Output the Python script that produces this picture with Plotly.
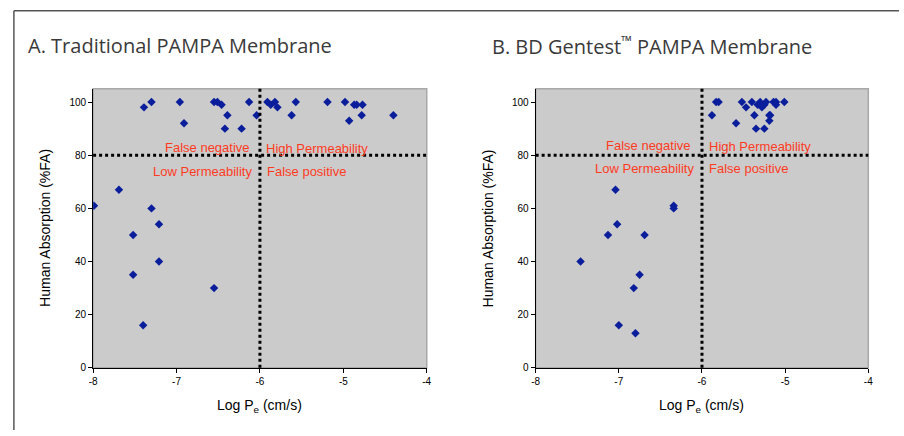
import plotly.graph_objects as go

# ---------------- data ----------------
a_logpe = [-7.39, -7.30, -6.96, -6.91, -6.55, -6.51, -6.46, -6.39, -6.42, -6.22,
           -6.13, -6.04, -5.91, -5.87, -5.82, -5.79, -5.57, -5.62, -5.19, -4.98,
           -4.93, -4.87, -4.84, -4.77, -4.78, -4.40,
           -7.69, -7.99, -7.30, -7.21, -7.52, -7.21, -7.52, -6.55, -7.40]
a_fa = [98, 100, 100, 92, 100, 100, 99, 95, 90, 90,
        100, 95, 100, 99, 100, 98, 100, 95, 100, 100,
        93, 99, 99, 99, 95, 95,
        67, 61, 60, 54, 50, 40, 35, 30, 16]

b_logpe = [-5.83, -5.80, -5.88, -5.59, -5.52, -5.47, -5.40, -5.37, -5.35, -5.33,
           -5.30, -5.28, -5.25, -5.25, -5.23, -5.19, -5.19, -5.18, -5.14, -5.11,
           -5.11, -5.01,
           -7.04, -6.34, -6.34, -7.02, -7.13, -6.69, -7.46, -6.75, -6.82, -7.00, -6.80]
b_fa = [100, 100, 95, 92, 100, 98, 100, 95, 90, 99,
        100, 98, 99, 90, 100, 95, 93, 95, 100, 99,
        100, 100,
        67, 61, 60, 54, 50, 50, 40, 35, 30, 16, 13]

x_ticks = [-8, -7, -6, -5, -4]
y_ticks = [0, 20, 40, 60, 80, 100]
THRESH_X = -6
THRESH_Y = 80

titles = ["A. Traditional PAMPA Membrane", "B. BD Gentest<sup>™</sup> PAMPA Membrane"]

# ---------------- layout geometry ----------------
W, H = 904, 436
def px(x): return x / W
def py(y): return 1 - y / H

panels = [
    dict(x0=90, x1=427, title_x=22, data=(a_logpe, a_fa), xa="x", ya="y",
         txt=dict(fn=(-8, 8), hp=(4, 7), lp=(-6, -16), fp=(5, -16))),
    dict(x0=537, x1=873, title_x=491, data=(b_logpe, b_fa), xa="x2", ya="y2",
         txt=dict(fn=(-9, 10), hp=(5, 9), lp=(-6, -13), fp=(5, -13))),
]
Y0, Y1 = 90, 373

MARK = "#0A1E9C"
RED = "#FF3B1F"
GRID_BG = "#CBCBCB"

fig = go.Figure()
shapes = []
annotations = []

for i, p in enumerate(panels):
    xs, ys = p["data"]
    fig.add_trace(go.Scatter(x=xs, y=ys, mode="markers", xaxis=p["xa"], yaxis=p["ya"],
                             marker=dict(symbol="diamond", size=6.5, color=MARK,
                                         line=dict(width=0)),
                             showlegend=False, hoverinfo="x+y"))
    sfx = "" if i == 0 else "2"
    xref, yref = "x" + sfx, "y" + sfx
    # plot border (light gray)
    shapes.append(dict(type="rect", xref=xref + " domain", yref=yref + " domain",
                       x0=0, x1=1, y0=0, y1=1, line=dict(color="#A8A8A8", width=1.5),
                       layer="below"))
    # threshold lines
    shapes.append(dict(type="line", xref=xref, yref=yref + " domain",
                       x0=THRESH_X, x1=THRESH_X, y0=0, y1=1,
                       line=dict(color="black", width=3, dash="dot")))
    shapes.append(dict(type="line", xref=xref + " domain", yref=yref,
                       x0=0, x1=1, y0=THRESH_Y, y1=THRESH_Y,
                       line=dict(color="black", width=3, dash="dot")))
    t = p["txt"]
    for key, text, anchor in [("fn", "False negative", "right"),
                              ("hp", "High Permeability", "left"),
                              ("lp", "Low Permeability", "right"),
                              ("fp", "False positive", "left")]:
        annotations.append(dict(x=THRESH_X, y=THRESH_Y, xref=xref, yref=yref,
                                text=text, showarrow=False, xanchor=anchor,
                                yanchor="middle", xshift=t[key][0], yshift=t[key][1],
                                font=dict(family="Arial, Liberation Sans", size=13, color=RED)))
    # panel title
    annotations.append(dict(x=px(p["title_x"]), y=py(46), xref="paper", yref="paper",
                            text=titles[i], showarrow=False, xanchor="left", yanchor="middle",
                            font=dict(family="Open Sans", size=20, color="#3A3A3A")))
    # axis titles
    annotations.append(dict(x=px(p["x0"] - 48), y=py((Y0 + Y1) / 2), xref="paper", yref="paper",
                            text="Human Absorption (%FA)", showarrow=False, textangle=-90,
                            xanchor="center", yanchor="middle",
                            font=dict(family="Arial, Liberation Sans", size=14, color="black")))
    annotations.append(dict(x=px((p["x0"] + p["x1"]) / 2), y=py(412), xref="paper", yref="paper",
                            text="Log P<sub>e</sub> (cm/s)", showarrow=False,
                            xanchor="center", yanchor="middle",
                            font=dict(family="Arial, Liberation Sans", size=14, color="black")))

# outer frame (top and left)
shapes.append(dict(type="line", xref="paper", yref="paper", x0=px(10), x1=1, y0=py(11), y1=py(11),
                   line=dict(color="#555555", width=1.5)))
shapes.append(dict(type="line", xref="paper", yref="paper", x0=px(10), x1=px(10), y0=0, y1=py(11),
                   line=dict(color="#555555", width=1.5)))

tickfont = dict(family="Arial, Liberation Sans", size=10, color="black")
def xaxis(p, anchor):
    return dict(domain=[px(p["x0"]), px(p["x1"])], range=[-8, -4], tickvals=x_ticks,
                ticktext=[str(v) for v in x_ticks], showgrid=False, zeroline=False,
                showline=True, linecolor="black", linewidth=1, ticks="outside",
                ticklen=4, tickcolor="black", tickfont=tickfont, anchor=anchor)
def yaxis(anchor):
    return dict(domain=[py(Y1), py(Y0)], range=[0, 105], tickvals=y_ticks,
                showgrid=False, zeroline=False, showline=True, linecolor="black",
                linewidth=1, ticks="outside", ticklen=4, tickcolor="black",
                tickfont=tickfont, anchor=anchor)

fig.update_layout(
    width=W, height=H, margin=dict(l=0, r=0, t=0, b=0),
    paper_bgcolor="white", plot_bgcolor=GRID_BG,
    xaxis=xaxis(panels[0], "y"), yaxis=yaxis("x"),
    xaxis2=xaxis(panels[1], "y2"), yaxis2=yaxis("x2"),
    shapes=shapes, annotations=annotations, showlegend=False,
)

fig.write_html("out.html", config={"displayModeBar": False},
               post_script="document.body.style.margin='0';document.body.style.overflow='hidden';")
